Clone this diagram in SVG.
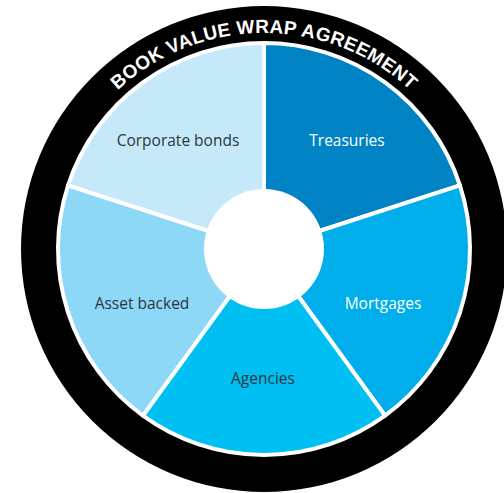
<svg xmlns="http://www.w3.org/2000/svg" width="504" height="493" viewBox="0 0 504 493">
  <defs>
    <style>
      .wedge { stroke: #ffffff; stroke-width: 4; stroke-linejoin: round; }
      .lbl { font-family: "Open Sans", "Noto Sans", "Liberation Sans", sans-serif; font-size: 15.5px; text-anchor: middle; }
      .dark { fill: #2b3640; }
      .light { fill: #ffffff; }
      .ring { font-family: "Liberation Sans", "Open Sans", sans-serif; font-weight: bold; font-size: 19px; fill: #ffffff; letter-spacing: 0.3px; }
    </style>
    <path id="arc" d="M 48 249 A 216 216 0 0 1 480 249" fill="none"/>
  </defs>
  <rect width="504" height="493" fill="#ffffff"/>
  <g id="wrap">
    <circle cx="264" cy="249" r="243" fill="#000000"/>
    <text class="ring"><textPath href="#arc" startOffset="50%" text-anchor="middle">BOOK VALUE WRAP AGREEMENT</textPath></text>
  </g>
  <circle cx="264" cy="249" r="207" fill="#ffffff"/>
  <g id="treasuries">
    <path class="wedge" d="M 264 249 L 264 43 A 206 206 0 0 1 459.92 185.34 Z" fill="#0083c4"/>
    <text class="lbl light" x="347" y="146">Treasuries</text>
  </g>
  <g id="mortgages">
    <path class="wedge" d="M 264 249 L 459.92 185.34 A 206 206 0 0 1 385.08 415.66 Z" fill="#00aeeb"/>
    <text class="lbl light" x="383" y="309">Mortgages</text>
  </g>
  <g id="agencies">
    <path class="wedge" d="M 264 249 L 385.08 415.66 A 206 206 0 0 1 142.92 415.66 Z" fill="#00bff3"/>
    <text class="lbl dark" x="263" y="384">Agencies</text>
  </g>
  <g id="asset-backed">
    <path class="wedge" d="M 264 249 L 142.92 415.66 A 206 206 0 0 1 68.08 185.34 Z" fill="#8ed8f7"/>
    <text class="lbl dark" x="142" y="309">Asset backed</text>
  </g>
  <g id="corporate-bonds">
    <path class="wedge" d="M 264 249 L 68.08 185.34 A 206 206 0 0 1 264 43 Z" fill="#c6e9f9"/>
    <text class="lbl dark" x="178" y="146">Corporate bonds</text>
  </g>
  <circle cx="264" cy="249" r="206" fill="none" stroke="#ffffff" stroke-width="1.5"/>
  <g id="hub">
    <circle cx="264" cy="249" r="60" fill="#ffffff"/>
  </g>
</svg>
